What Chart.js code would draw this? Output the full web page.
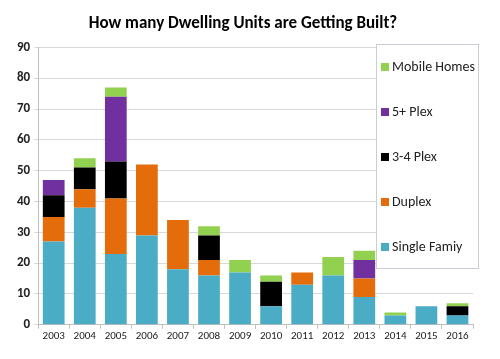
<!DOCTYPE html>
<html>
<head>
<meta charset="utf-8">
<script src="https://cdn.jsdelivr.net/npm/chart.js@4"></script>
<style>
  html, body { margin: 0; padding: 0; background: #fff; }
  #wrap { width: 500px; height: 359px; }
</style>
</head>
<body>
<div id="wrap"><canvas id="unitsChart" width="500" height="359"></canvas></div>
<script>
const years = ['2003', '2004', '2005', '2006', '2007', '2008', '2009', '2010', '2011', '2012', '2013', '2014', '2015', '2016'];
const singleFamily = [27, 38, 23, 29, 18, 16, 17, 6, 13, 16, 9, 3, 6, 3];
const duplex       = [8, 6, 18, 23, 16, 5, 0, 0, 4, 0, 6, 0, 0, 0];
const plex34       = [7, 7, 12, 0, 0, 8, 0, 8, 0, 0, 0, 0, 0, 3];
const plex5        = [5, 0, 21, 0, 0, 0, 0, 0, 0, 0, 6, 0, 0, 0];
const mobileHomes  = [0, 3, 3, 0, 0, 3, 4, 2, 0, 6, 3, 1, 0, 1];
const yTicks = [0, 10, 20, 30, 40, 50, 60, 70, 80, 90];

const font = "Calibri, Carlito, Lato, 'Open Sans', sans-serif";

// legend drawn as a boxed panel overlapping the plot, like the original
const boxLegend = {
    id: 'boxLegend',
    afterDraw(chart) {
        const ctx = chart.ctx;
        const left = 376, top = 44, w = 102, h = 224;
        ctx.save();
        ctx.fillStyle = '#ffffff';
        ctx.fillRect(left, top, w, h);
        ctx.strokeStyle = '#c8cdd6';
        ctx.lineWidth = 1;
        ctx.strokeRect(left + 0.5, top + 0.5, w, h);
        const items = chart.data.datasets.slice().reverse();
        ctx.font = "14px " + font;
        ctx.textBaseline = 'middle';
        items.forEach((ds, i) => {
            const y = top + 23 + i * 45;
            ctx.fillStyle = ds.backgroundColor;
            ctx.fillRect(left + 5, y - 4, 8, 8);
            ctx.fillStyle = '#222';
            ctx.fillText(ds.label, left + 16, y);
        });
        ctx.restore();
    }
};

const ctx = document.getElementById('unitsChart').getContext('2d');
const unitsChart = new Chart(ctx, {
    type: 'bar',
    data: {
        labels: years,
        datasets: [
            { label: 'Single Famiy', data: singleFamily, backgroundColor: '#4bacc6' },
            { label: 'Duplex', data: duplex, backgroundColor: '#e46c0a' },
            { label: '3-4 Plex', data: plex34, backgroundColor: '#000000' },
            { label: '5+ Plex', data: plex5, backgroundColor: '#7030a0' },
            { label: 'Mobile Homes', data: mobileHomes, backgroundColor: '#92d050' }
        ]
    },
    options: {
        responsive: false,
        animation: false,
        devicePixelRatio: 1,
        layout: { padding: { left: 13, right: 27, top: 8, bottom: 15 } },
        datasets: { bar: { barPercentage: 0.7, categoryPercentage: 1.0 } },
        plugins: {
            legend: { display: false },
            tooltip: { enabled: false },
            title: {
                display: true,
                text: 'How many Dwelling Units are Getting Built?',
                color: '#000',
                font: { family: font, size: 17, weight: 'bold' },
                padding: { top: 6, bottom: 13 }
            }
        },
        scales: {
            x: {
                stacked: true,
                grid: { display: true, drawOnChartArea: false, color: '#bfbfbf', tickLength: 4, offset: true },
                border: { color: '#bfbfbf' },
                ticks: { color: '#222', font: { family: font, size: 11 }, maxRotation: 0, padding: 1 }
            },
            y: {
                stacked: true,
                min: 0,
                max: 90,
                afterBuildTicks: axis => { axis.ticks = yTicks.map(v => ({ value: v })); },
                grid: { color: '#d9d9d9', tickLength: 4 },
                border: { color: '#bfbfbf' },
                ticks: { color: '#222', font: { family: font, size: 13, weight: 'bold' }, padding: 4 }
            }
        }
    },
    plugins: [boxLegend]
});
</script>
</body>
</html>
